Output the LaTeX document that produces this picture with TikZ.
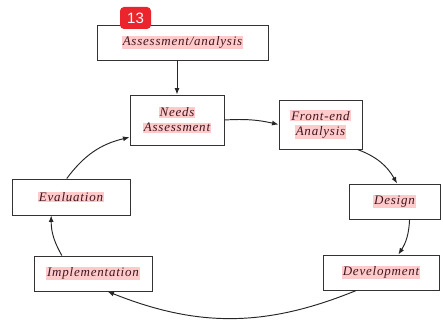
\documentclass[tikz,border=0pt]{standalone}
\usepackage{fontspec}
\setmainfont{Liberation Serif}
\setsansfont{Liberation Sans}
\usetikzlibrary{arrows.meta}

\definecolor{hlpink}{RGB}{255,202,202}
\definecolor{inkdark}{RGB}{62,22,32}
\definecolor{badgered}{RGB}{234,38,44}

% pink highlight behind each line of text
\newcommand{\hlbox}[1]{{\setlength{\fboxsep}{0.8pt}\colorbox{hlpink}{#1}}}
\newcommand{\stagefont}{\fontsize{13}{15}\selectfont\itshape\addfontfeature{LetterSpace=6}\color{inkdark}}

\begin{document}
\begin{tikzpicture}[
		x=1pt, y=1pt,
		% --- Styles ---
		stagebox/.style={
			rectangle, draw=black!80, line width=0.95pt, fill=white,
			align=center, inner sep=0pt, font=\stagefont
		},
		flow/.style={
			draw=black!85, line width=0.95pt, -{Latex[length=6.5pt, width=5pt]}
		},
		badge/.style={
			rectangle, rounded corners=4pt, fill=badgered, text=white,
			minimum width=31pt, minimum height=22pt, inner sep=0pt,
			font=\sffamily\fontsize{15}{15}\selectfont
		}
		]
		
		\useasboundingbox (0,0) rectangle (443,-320);
		
		% --- 1. Top box ---
		\node [stagebox, minimum width=171pt, minimum height=35pt] (assess) at (182.5,-42.5) {\hlbox{Assessment/analysis}};
		
		% --- 2. The cycle ---
		\node [stagebox, minimum width=94pt, minimum height=50pt] (needs) at (177,-120) {\hlbox{Needs}\\\hlbox{Assessment}};
		\node [stagebox, minimum width=83pt, minimum height=49pt] (frontend) at (320.5,-124.5) {\hlbox{Front-end}\\\hlbox{Analysis}};
		\node [stagebox, minimum width=91pt, minimum height=35pt] (design) at (394.5,-201.5) {\hlbox{Design}};
		\node [stagebox, minimum width=116pt, minimum height=35pt] (devel) at (381,-272.5) {\hlbox{Development}};
		\node [stagebox, minimum width=118pt, minimum height=35pt] (impl) at (93,-273.5) {\hlbox{Implementation}};
		\node [stagebox, minimum width=118pt, minimum height=36pt] (eval) at (71,-197) {\hlbox{Evaluation}};
		
		% --- 3. Connections ---
		\draw [flow] (assess.south -| needs.north) -- (needs.north);
		\draw [flow] (needs.east) to[bend left=8] (frontend.west);
		\draw [flow] (frontend.-34) to[bend left=20] (design.82);
		\draw [flow] (design.-50) to[bend left=15] (devel.46);
		\draw [flow] (devel.-144) to[bend left=22] (impl.-51);
		\draw [flow] (impl.150) to[bend left=15] (eval.-137);
		\draw [flow] (eval.103) to[bend left=20] (needs.-160);
		
		% --- 4. Counter badge ---
		\node [badge] (count) at (135.5,-18) {13};
		
\end{tikzpicture}
\end{document}
